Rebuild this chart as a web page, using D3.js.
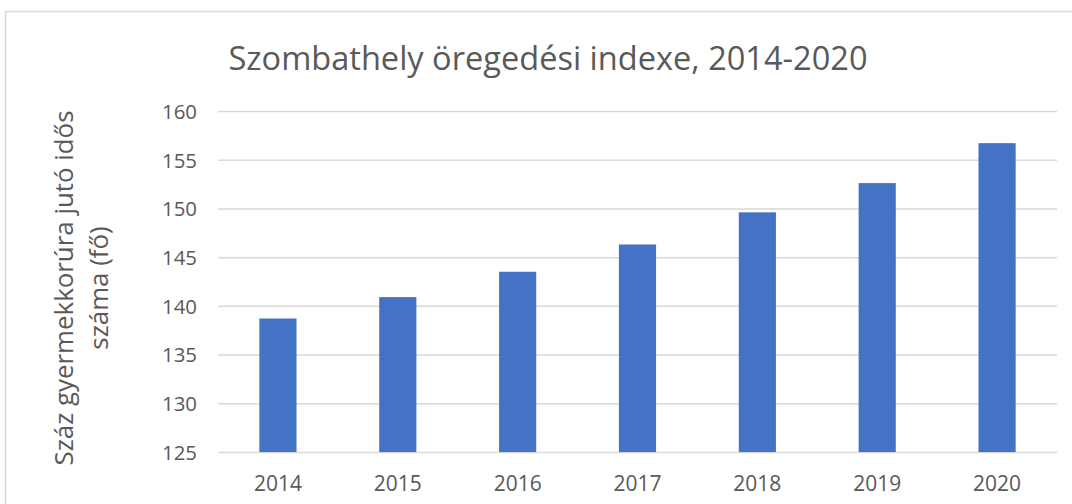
<!DOCTYPE html>
<html>
<head>
<meta charset="utf-8">
<script src="https://cdn.jsdelivr.net/npm/d3@7"></script>
<style>
  html, body { margin: 0; padding: 0; background: #ffffff; }
  svg { display: block; }
  text { font-family: "Open Sans", "Noto Sans", sans-serif; fill: #595959; }
</style>
</head>
<body>
<svg id="chart" width="1072" height="504"></svg>
<script>
const title = "Szombathely öregedési indexe, 2014-2020";
const yTitleLines = ["Száz gyermekkorúra jutó idős", "száma (fő)"];
const years = ["2014", "2015", "2016", "2017", "2018", "2019", "2020"];
const values = [138.7, 140.9, 143.5, 146.3, 149.6, 152.6, 156.7];
const yTicks = [125, 130, 135, 140, 145, 150, 155, 160];

const svg = d3.select("#chart");
const plot = { left: 218, right: 1057, top: 111, bottom: 452 };

// chart frame
svg.append("rect")
  .attr("x", 5.5).attr("y", 11.5)
  .attr("width", 1080).attr("height", 520)
  .attr("fill", "#ffffff")
  .attr("stroke", "#d9d9d9").attr("stroke-width", 1.5);

const x = d3.scaleBand().domain(years).range([plot.left, plot.right]).paddingInner(0.69).paddingOuter(0.345);
const y = d3.scaleLinear().domain([125, 160]).range([plot.bottom, plot.top]);

function fit(sel, target) {
  const w = sel.node().getComputedTextLength();
  const fs = parseFloat(sel.attr("font-size"));
  sel.attr("font-size", (fs * target / w).toFixed(2));
}

// gridlines
const grid = svg.append("g")
  .attr("transform", `translate(${plot.left},0)`)
  .call(d3.axisLeft(y).tickValues(yTicks).tickSize(-(plot.right - plot.left)).tickFormat(""));
grid.select(".domain").remove();
grid.selectAll(".tick line").attr("stroke", "#d9d9d9").attr("stroke-width", 1.5);

// y tick labels
const yAxis = svg.append("g")
  .attr("transform", `translate(197,0)`)
  .call(d3.axisLeft(y).tickValues(yTicks).tickSize(0).tickPadding(0));
yAxis.select(".domain").remove();
yAxis.selectAll(".tick text")
  .attr("font-size", 20).attr("dy", "0.36em")
  .style("font-family", '"Open Sans", sans-serif').attr("fill", "#595959");
{
  const t = yAxis.select(".tick text");
  const w = t.node().getComputedTextLength();
  const fs = (20 * 35 / w).toFixed(2);
  yAxis.selectAll(".tick text").attr("font-size", fs);
}

// bars
svg.append("g").selectAll("rect")
  .data(values)
  .join("rect")
  .attr("x", (d, i) => x(years[i]))
  .attr("width", x.bandwidth())
  .attr("y", d => y(d))
  .attr("height", d => y(125) - y(d))
  .attr("fill", "#4472c4");

// x axis labels
const xAxis = svg.append("g")
  .attr("transform", `translate(0,${plot.bottom})`)
  .call(d3.axisBottom(x).tickSize(0).tickPadding(0));
xAxis.select(".domain").remove();
xAxis.selectAll(".tick text")
  .attr("font-size", 20).attr("dy", 0).attr("y", 39)
  .style("font-family", '"Open Sans", sans-serif').attr("fill", "#595959");
{
  const t = xAxis.select(".tick text");
  const w = t.node().getComputedTextLength();
  const fs = (20 * 48 / w).toFixed(2);
  xAxis.selectAll(".tick text").attr("font-size", fs);
}

// title
const tt = svg.append("text")
  .attr("x", 548).attr("y", 70)
  .attr("text-anchor", "middle")
  .attr("font-size", 30)
  .text(title);
fit(tt, 639);

// y axis title
const yt1 = svg.append("text")
  .attr("transform", "translate(73,288) rotate(-90)")
  .attr("text-anchor", "middle")
  .attr("font-size", 24)
  .text(yTitleLines[0]);
fit(yt1, 355);
const fs2 = yt1.attr("font-size");
svg.append("text")
  .attr("transform", "translate(108,288) rotate(-90)")
  .attr("text-anchor", "middle")
  .attr("font-size", fs2)
  .text(yTitleLines[1]);
</script>
</body>
</html>
